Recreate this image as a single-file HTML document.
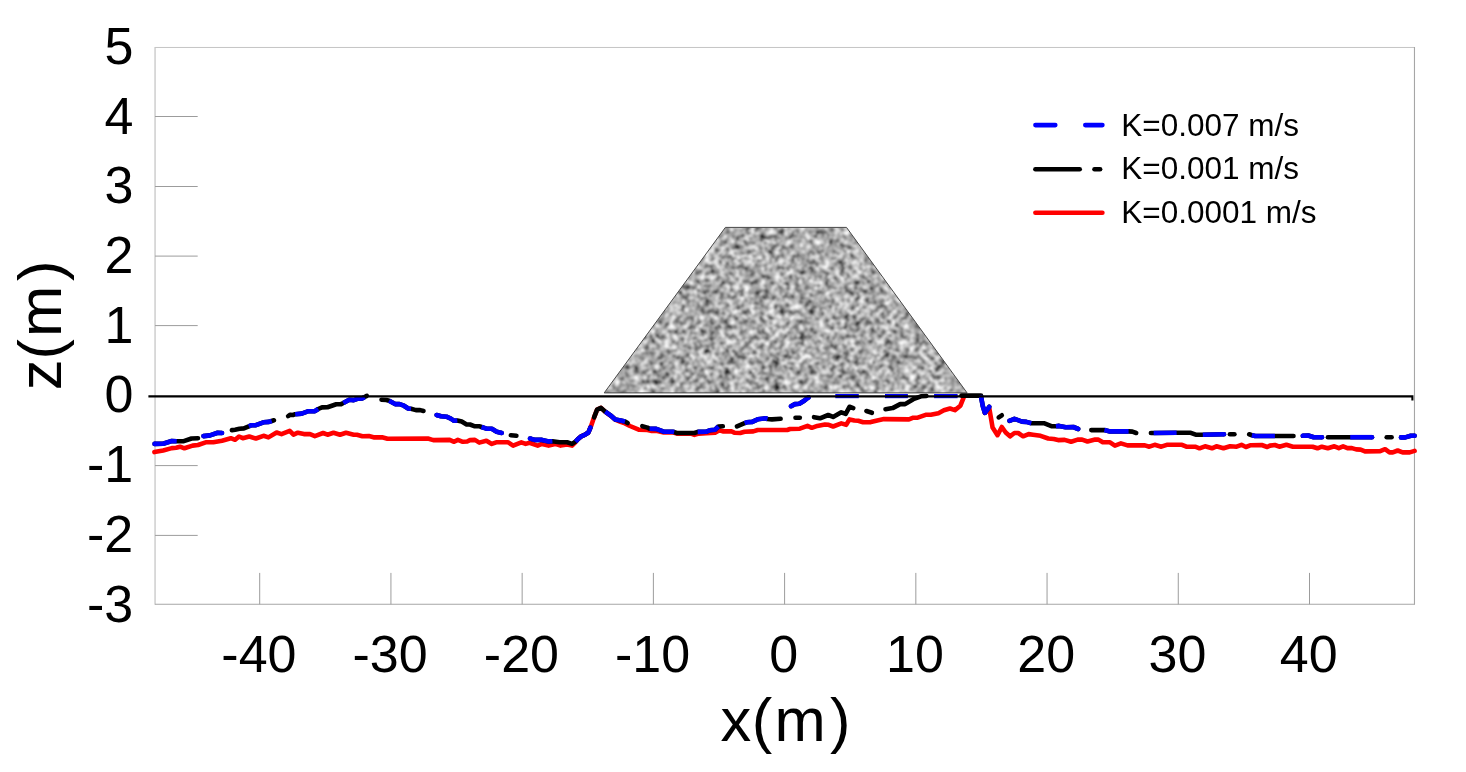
<!DOCTYPE html>
<html><head><meta charset="utf-8"><title>chart</title>
<style>html,body{margin:0;padding:0;background:#fff;}body{width:1466px;height:772px;overflow:hidden;font-family:"Liberation Sans",sans-serif;}svg{display:block;position:absolute;left:0;top:0;will-change:transform;}text{font-family:"Liberation Sans",sans-serif;fill:#000;}</style></head><body>
<svg width="1466" height="772" viewBox="0 0 1466 772">
<defs><filter id="noise" x="0" y="0" width="100%" height="100%" color-interpolation-filters="sRGB"><feTurbulence type="fractalNoise" baseFrequency="0.20" numOctaves="2" seed="7"/><feColorMatrix type="matrix" values="1 0 0 0 0 1 0 0 0 0 1 0 0 0 0 0 0 0 0 1" result="hi"/><feTurbulence type="fractalNoise" baseFrequency="0.06" numOctaves="2" seed="3"/><feColorMatrix type="matrix" values="1 0 0 0 0 1 0 0 0 0 1 0 0 0 0 0 0 0 0 1" result="lo"/><feComposite in="hi" in2="lo" operator="arithmetic" k1="0" k2="1.6" k3="0.5" k4="-0.53"/><feGaussianBlur stdDeviation="0.9"/><feComponentTransfer><feFuncR type="gamma" exponent="0.6"/><feFuncG type="gamma" exponent="0.6"/><feFuncB type="gamma" exponent="0.6"/></feComponentTransfer></filter><clipPath id="trap"><polygon points="604.2,392.9 725.4,227.4 846.5,227.4 967.1,392.9"/></clipPath></defs>
<rect x="0" y="0" width="1466" height="772" fill="#fff"/>
<line x1="155.05" y1="46.96" x2="155.05" y2="604.8" stroke="#c6c6c6" stroke-width="1.3"/>
<line x1="155.05" y1="47.46" x2="1414.47" y2="47.46" stroke="#c4c4c4" stroke-width="1"/>
<line x1="1414.47" y1="46.96" x2="1414.47" y2="604.8" stroke="#a6a6a6" stroke-width="1.1"/>
<line x1="155.05" y1="604.3" x2="1414.47" y2="604.3" stroke="#a6a6a6" stroke-width="1.1"/>
<line x1="155.05" y1="116.5" x2="197.7" y2="116.5" stroke="#9c9c9c" stroke-width="1"/>
<line x1="155.05" y1="186.5" x2="197.7" y2="186.5" stroke="#9c9c9c" stroke-width="1"/>
<line x1="155.05" y1="256.1" x2="197.7" y2="256.1" stroke="#9c9c9c" stroke-width="1"/>
<line x1="155.05" y1="325.6" x2="197.7" y2="325.6" stroke="#9c9c9c" stroke-width="1"/>
<line x1="155.05" y1="465.6" x2="197.7" y2="465.6" stroke="#9c9c9c" stroke-width="1"/>
<line x1="155.05" y1="535.4" x2="197.7" y2="535.4" stroke="#9c9c9c" stroke-width="1"/>
<line x1="259.70" y1="572.9" x2="259.70" y2="604.3" stroke="#9c9c9c" stroke-width="1"/>
<line x1="390.93" y1="572.9" x2="390.93" y2="604.3" stroke="#9c9c9c" stroke-width="1"/>
<line x1="522.15" y1="572.9" x2="522.15" y2="604.3" stroke="#9c9c9c" stroke-width="1"/>
<line x1="653.38" y1="572.9" x2="653.38" y2="604.3" stroke="#9c9c9c" stroke-width="1"/>
<line x1="784.60" y1="572.9" x2="784.60" y2="604.3" stroke="#9c9c9c" stroke-width="1"/>
<line x1="915.83" y1="572.9" x2="915.83" y2="604.3" stroke="#9c9c9c" stroke-width="1"/>
<line x1="1047.05" y1="572.9" x2="1047.05" y2="604.3" stroke="#9c9c9c" stroke-width="1"/>
<line x1="1178.28" y1="572.9" x2="1178.28" y2="604.3" stroke="#9c9c9c" stroke-width="1"/>
<line x1="1309.50" y1="572.9" x2="1309.50" y2="604.3" stroke="#9c9c9c" stroke-width="1"/>
<g clip-path="url(#trap)"><rect x="600" y="224" width="372" height="172" fill="#999" filter="url(#noise)"/></g>
<polygon points="604.2,392.9 725.4,227.4 846.5,227.4 967.1,392.9" fill="none" stroke="#484848" stroke-width="1"/>
<polyline points="154.4,452.1 163.1,450.5 171.8,448.1 176.2,447.8 180.0,446.7 184.4,448.3 192.6,445.6 198.0,445.0 205.7,442.3 213.3,442.3 222.0,440.7 230.8,438.2 235.1,439.8 239.0,436.5 242.8,438.2 249.3,436.5 255.9,438.5 263.5,435.8 268.4,437.4 276.6,432.5 281.5,434.1 289.7,430.8 293.5,434.7 297.9,432.7 303.9,434.1 310.0,434.1 314.9,436.1 323.1,433.0 327.5,434.7 333.5,432.7 340.0,434.7 346.0,432.7 353.7,434.7 356.9,434.7 362.4,436.3 368.9,436.1 374.4,437.4 382.0,437.2 387.5,438.7 427.9,438.5 433.3,440.1 449.7,439.9 454.1,441.8 457.9,439.9 462.8,441.8 467.2,441.5 470.0,440.1 474.9,439.9 479.3,442.6 486.4,440.7 491.8,443.9 496.2,442.3 508.2,442.3 513.1,445.6 521.3,442.3 525.7,443.9 529.5,442.8 537.7,445.6 542.0,443.9 548.6,445.6 555.1,443.9 560.6,445.6 567.1,444.5 572.0,445.6 575.3,442.3 577.5,439.6 581.3,436.3 585.1,434.7 588.4,432.5 591.1,425.9 593.3,419.4 597.1,409.6 601.0,407.9 605.3,411.9 610.8,415.8 615.2,419.6 620.6,421.8 625.0,423.4 630.0,426.0 638.7,429.7 647.5,430.0 651.8,431.0 657.3,430.9 663.8,432.5 673.7,432.5 676.9,433.6 691.1,433.6 694.4,434.9 698.8,433.6 706.4,433.1 715.1,432.6 719.5,430.3 722.8,431.4 731.5,431.4 734.8,432.8 740.2,433.0 744.6,431.7 753.3,431.4 757.7,430.0 787.2,430.0 790.0,429.0 799.8,428.7 807.5,425.9 811.8,427.8 817.3,425.9 824.9,424.5 828.7,424.8 833.1,426.5 841.3,423.4 846.2,424.8 849.5,419.4 854.4,420.5 858.2,420.8 863.1,422.3 870.8,422.1 877.3,420.5 883.9,419.1 909.0,419.4 913.3,417.7 917.7,417.7 926.4,414.7 930.8,414.7 938.4,413.2 943.9,410.3 950.0,408.5 954.9,410.1 960.4,405.7 963.6,397.6" fill="none" stroke="#ff0000" stroke-width="4.6" stroke-linecap="round" stroke-linejoin="round"/>
<polyline points="984.9,412.8 989.3,408.5 990.9,417.7 992.6,427.6 997.5,435.2 1001.8,427.0 1005.7,432.5 1010.0,436.3 1014.4,433.0 1018.2,433.0 1023.1,436.3 1028.6,434.1 1033.0,434.7 1040.6,435.8 1048.2,438.5 1053.7,439.0 1058.1,440.1 1064.6,439.9 1071.1,441.8 1077.7,439.6 1082.1,439.6 1087.5,441.5 1095.2,439.6 1098.4,439.6 1102.8,442.3 1110.0,442.3 1114.9,445.6 1120.9,443.4 1127.5,445.4 1144.9,445.4 1149.3,446.7 1154.7,444.8 1161.3,446.7 1166.8,444.8 1182.0,444.8 1186.4,446.7 1195.1,446.7 1199.5,448.3 1205.0,446.3 1212.0,448.3 1216.4,446.3 1223.5,448.3 1230.1,446.3 1236.6,446.7 1241.5,444.8 1245.9,447.0 1250.8,445.2 1261.7,445.0 1267.2,447.0 1270.0,445.6 1274.9,445.0 1279.3,446.7 1286.4,444.8 1292.9,446.7 1312.6,446.7 1317.5,448.3 1321.8,446.7 1327.8,448.3 1334.4,446.3 1338.8,448.1 1343.1,446.3 1347.5,448.1 1351.9,448.1 1356.2,449.4 1360.6,449.6 1365.0,451.4 1380.2,451.1 1385.1,449.2 1389.5,452.4 1392.8,452.4 1397.7,450.5 1402.6,452.4 1409.7,452.4 1414.6,450.9" fill="none" stroke="#ff0000" stroke-width="4.6" stroke-linecap="round" stroke-linejoin="round"/>
<line x1="835.3" y1="396.1" x2="858.8" y2="396.1" stroke="#0000ff" stroke-width="4.2"/>
<line x1="885.0" y1="396.1" x2="907.9" y2="396.1" stroke="#0000ff" stroke-width="4.2"/>
<line x1="934.1" y1="396.1" x2="957.6" y2="396.1" stroke="#0000ff" stroke-width="4.2"/>
<polyline points="154.6,443.9 163.1,443.7 171.8,441.0 176.7,441.2 183.8,441.2 191.5,438.5 198.0,438.2" fill="none" stroke="#000" stroke-width="4.6" stroke-linecap="round" stroke-linejoin="round"/>
<polyline points="154.6,443.9 163.1,443.7 171.8,441.0 176.7,441.2" fill="none" stroke="#0000ff" stroke-width="4.6" stroke-linecap="butt" stroke-linejoin="round"/>
<circle cx="154.6" cy="443.9" r="2.3" fill="#0000ff"/>
<polyline points="203.5,436.1 210.0,435.4 217.7,432.8 222.0,433.0" fill="none" stroke="#000" stroke-width="4.6" stroke-linecap="round" stroke-linejoin="round"/>
<polyline points="203.5,436.1 210.0,435.4 217.7,432.8 222.0,433.0" fill="none" stroke="#0000ff" stroke-width="4.6" stroke-linecap="butt" stroke-linejoin="round"/>
<circle cx="203.5" cy="436.1" r="2.3" fill="#0000ff"/>
<circle cx="222.0" cy="433.0" r="2.3" fill="#0000ff"/>
<polyline points="231.9,430.1 235.1,429.7 239.5,428.7 243.9,428.4 248.8,426.3 251.5,425.2 255.9,425.2 263.5,422.3 269.0,421.9 271.7,421.0 273.9,420.3" fill="none" stroke="#000" stroke-width="4.6" stroke-linecap="round" stroke-linejoin="round"/>
<polyline points="248.8,426.3 251.5,425.2 255.9,425.2 263.5,422.3 269.0,421.9 271.7,421.0" fill="none" stroke="#0000ff" stroke-width="4.6" stroke-linecap="butt" stroke-linejoin="round"/>
<polyline points="288.1,416.1 290.2,414.8 293.0,415.0 295.2,414.2 301.7,413.6 308.5,411.2 314.9,411.2 318.2,409.0 322.0,407.4 327.5,407.2 336.2,404.3 341.1,404.1 343.3,403.0 349.3,399.7 353.7,400.1 358.0,398.6 362.4,398.4 364.6,397.0 366.8,395.9" fill="none" stroke="#000" stroke-width="4.6" stroke-linecap="round" stroke-linejoin="round"/>
<polyline points="295.2,414.2 301.7,413.6 308.5,411.2 314.9,411.2 318.2,409.0" fill="none" stroke="#0000ff" stroke-width="4.6" stroke-linecap="butt" stroke-linejoin="round"/>
<polyline points="343.3,403.0 349.3,399.7 353.7,400.1 358.0,398.6 362.4,398.4 364.6,397.0" fill="none" stroke="#0000ff" stroke-width="4.6" stroke-linecap="butt" stroke-linejoin="round"/>
<polyline points="381.5,399.7 386.4,400.0 389.1,400.8 395.1,404.1 399.5,404.1 403.9,405.7 408.2,408.5 411.0,408.8 415.9,410.1 420.2,410.1 423.5,411.0" fill="none" stroke="#000" stroke-width="4.6" stroke-linecap="round" stroke-linejoin="round"/>
<polyline points="389.1,400.8 395.1,404.1 399.5,404.1 403.9,405.7 408.2,408.5 411.0,408.8" fill="none" stroke="#0000ff" stroke-width="4.6" stroke-linecap="butt" stroke-linejoin="round"/>
<polyline points="436.6,415.0 441.0,416.3 446.4,416.7 450.8,418.6 454.1,420.8 457.3,420.5 461.7,421.6 466.6,424.5 470.0,424.5 474.9,426.3 479.8,426.3 481.5,427.0 486.4,428.7 491.8,428.7 496.7,431.7 501.7,433.0" fill="none" stroke="#000" stroke-width="4.6" stroke-linecap="round" stroke-linejoin="round"/>
<polyline points="436.6,415.0 441.0,416.3 446.4,416.7 450.8,418.6 454.1,420.8 457.3,420.5" fill="none" stroke="#0000ff" stroke-width="4.6" stroke-linecap="butt" stroke-linejoin="round"/>
<circle cx="436.6" cy="415.0" r="2.3" fill="#0000ff"/>
<polyline points="481.5,427.0 486.4,428.7 491.8,428.7 496.7,431.7 501.7,433.0" fill="none" stroke="#0000ff" stroke-width="4.6" stroke-linecap="butt" stroke-linejoin="round"/>
<circle cx="501.7" cy="433.0" r="2.3" fill="#0000ff"/>
<polyline points="510.9,435.2 516.4,435.8" fill="none" stroke="#000" stroke-width="4.6" stroke-linecap="round" stroke-linejoin="round"/>
<polyline points="530.0,438.5 534.4,439.9 542.0,439.9 548.6,441.4 552.4,441.2 559.5,442.3 567.1,442.3 572.0,443.9 575.5,441.6 577.5,439.6 581.3,436.3 585.1,434.7 588.4,432.5 590.4,427.6" fill="none" stroke="#000" stroke-width="4.6" stroke-linecap="round" stroke-linejoin="round"/>
<polyline points="530.0,438.5 534.4,439.9 542.0,439.9 548.6,441.4 552.4,441.2" fill="none" stroke="#0000ff" stroke-width="4.6" stroke-linecap="butt" stroke-linejoin="round"/>
<circle cx="530.0" cy="438.5" r="2.3" fill="#0000ff"/>
<polyline points="575.5,441.6 577.5,439.6 581.3,436.3 585.1,434.7 588.4,432.5 590.4,427.6" fill="none" stroke="#0000ff" stroke-width="4.6" stroke-linecap="butt" stroke-linejoin="round"/>
<circle cx="590.4" cy="427.6" r="2.3" fill="#0000ff"/>
<polyline points="594.1,417.3 597.1,409.6 601.0,407.9 605.3,411.7 610.8,415.6 615.2,419.4 620.6,420.5 625.0,421.6 627.6,423.1" fill="none" stroke="#000" stroke-width="4.6" stroke-linecap="round" stroke-linejoin="round"/>
<polyline points="605.3,411.7 610.8,415.6 615.2,419.4 620.6,420.5 625.0,421.6" fill="none" stroke="#0000ff" stroke-width="4.6" stroke-linecap="butt" stroke-linejoin="round"/>
<polyline points="642.3,426.2 647.5,427.6 649.6,428.7 656.2,428.9 663.8,431.7 672.6,431.7 674.2,432.1 676.9,433.0 694.4,433.0 697.7,431.9 706.4,431.7 709.7,430.3 715.1,429.7 718.4,426.5 722.8,426.3" fill="none" stroke="#000" stroke-width="4.6" stroke-linecap="round" stroke-linejoin="round"/>
<polyline points="649.6,428.7 656.2,428.9 663.8,431.7 672.6,431.7 674.2,432.1" fill="none" stroke="#0000ff" stroke-width="4.6" stroke-linecap="butt" stroke-linejoin="round"/>
<polyline points="697.7,431.9 706.4,431.7 709.7,430.3 715.1,429.7 718.4,426.5" fill="none" stroke="#0000ff" stroke-width="4.6" stroke-linecap="butt" stroke-linejoin="round"/>
<polyline points="737.0,426.3 744.6,423.2 746.8,422.3 752.2,421.9 757.7,419.3 765.3,418.3 767.5,419.0 772.0,419.4 780.6,418.8" fill="none" stroke="#000" stroke-width="4.6" stroke-linecap="round" stroke-linejoin="round"/>
<polyline points="744.6,423.2 746.8,422.3 752.2,421.9 757.7,419.3 765.3,418.3 767.5,419.0" fill="none" stroke="#0000ff" stroke-width="4.6" stroke-linecap="butt" stroke-linejoin="round"/>
<polyline points="791.0,406.2 794.9,404.1 799.3,403.8 804.2,400.8 807.6,398.0 808.6,397.4" fill="none" stroke="#000" stroke-width="4.6" stroke-linecap="round" stroke-linejoin="round"/>
<polyline points="791.0,406.2 794.9,404.1 799.3,403.8 804.2,400.8 807.6,398.0 808.6,397.4" fill="none" stroke="#0000ff" stroke-width="4.6" stroke-linecap="butt" stroke-linejoin="round"/>
<circle cx="791.0" cy="406.2" r="2.3" fill="#0000ff"/>
<circle cx="808.6" cy="397.4" r="2.3" fill="#0000ff"/>
<polyline points="795.5,417.7 799.8,417.7" fill="none" stroke="#000" stroke-width="4.6" stroke-linecap="round" stroke-linejoin="round"/>
<polyline points="814.0,417.2 820.0,418.3 828.2,415.0 833.1,416.9 841.3,412.3 845.7,413.9 849.5,406.8 853.3,408.1" fill="none" stroke="#000" stroke-width="4.6" stroke-linecap="round" stroke-linejoin="round"/>
<polyline points="866.4,411.0 871.9,412.8" fill="none" stroke="#000" stroke-width="4.6" stroke-linecap="round" stroke-linejoin="round"/>
<polyline points="885.5,409.2 892.6,408.1 900.2,404.1 905.1,404.1 913.3,399.2 921.0,396.3 926.4,396.0" fill="none" stroke="#000" stroke-width="4.6" stroke-linecap="round" stroke-linejoin="round"/>
<polyline points="961.5,395.6 981.0,395.6" fill="none" stroke="#000" stroke-width="4.6" stroke-linecap="round" stroke-linejoin="round"/>
<polyline points="981.1,397.0 982.7,405.7 984.9,412.8 989.3,406.8" fill="none" stroke="#000" stroke-width="4.6" stroke-linecap="round" stroke-linejoin="round"/>
<polyline points="981.1,397.0 982.7,405.7 984.9,412.8 989.3,406.8" fill="none" stroke="#0000ff" stroke-width="4.6" stroke-linecap="butt" stroke-linejoin="round"/>
<circle cx="981.1" cy="397.0" r="2.3" fill="#0000ff"/>
<circle cx="989.3" cy="406.8" r="2.3" fill="#0000ff"/>
<polyline points="998.7,417.4 1001.8,415.3" fill="none" stroke="#000" stroke-width="4.6" stroke-linecap="round" stroke-linejoin="round"/>
<polyline points="1009.5,420.8 1014.4,418.8 1022.0,421.6 1026.4,421.9 1031.3,423.2 1043.9,423.2 1052.0,426.3 1055.9,426.3 1059.1,425.9 1065.7,427.3 1073.3,427.0 1078.2,429.0" fill="none" stroke="#000" stroke-width="4.6" stroke-linecap="round" stroke-linejoin="round"/>
<polyline points="1009.5,420.8 1014.4,418.8 1022.0,421.6 1026.4,421.9 1031.3,423.2" fill="none" stroke="#0000ff" stroke-width="4.6" stroke-linecap="butt" stroke-linejoin="round"/>
<circle cx="1009.5" cy="420.8" r="2.3" fill="#0000ff"/>
<polyline points="1055.9,426.3 1059.1,425.9 1065.7,427.3 1073.3,427.0 1078.2,429.0" fill="none" stroke="#0000ff" stroke-width="4.6" stroke-linecap="butt" stroke-linejoin="round"/>
<circle cx="1078.2" cy="429.0" r="2.3" fill="#0000ff"/>
<polyline points="1091.3,430.1 1104.4,430.1 1110.0,431.4 1128.6,431.4 1132.4,431.6 1136.2,433.0" fill="none" stroke="#000" stroke-width="4.6" stroke-linecap="round" stroke-linejoin="round"/>
<polyline points="1104.4,430.1 1110.0,431.4 1128.6,431.4" fill="none" stroke="#0000ff" stroke-width="4.6" stroke-linecap="butt" stroke-linejoin="round"/>
<polyline points="1150.9,433.0 1153.7,433.0 1176.6,432.8 1190.8,432.8 1195.7,434.7 1202.8,434.7 1224.0,434.3" fill="none" stroke="#000" stroke-width="4.6" stroke-linecap="round" stroke-linejoin="round"/>
<polyline points="1153.7,433.0 1176.6,432.8" fill="none" stroke="#0000ff" stroke-width="4.6" stroke-linecap="butt" stroke-linejoin="round"/>
<polyline points="1202.8,434.7 1224.0,434.3" fill="none" stroke="#0000ff" stroke-width="4.6" stroke-linecap="butt" stroke-linejoin="round"/>
<circle cx="1224.0" cy="434.3" r="2.3" fill="#0000ff"/>
<polyline points="1229.9,434.3 1234.4,434.3" fill="none" stroke="#000" stroke-width="4.6" stroke-linecap="round" stroke-linejoin="round"/>
<polyline points="1249.2,434.3 1251.9,435.2 1255.2,436.0 1274.9,436.0 1293.5,436.0" fill="none" stroke="#000" stroke-width="4.6" stroke-linecap="round" stroke-linejoin="round"/>
<polyline points="1251.9,435.2 1255.2,436.0 1274.9,436.0" fill="none" stroke="#0000ff" stroke-width="4.6" stroke-linecap="butt" stroke-linejoin="round"/>
<polyline points="1302.8,435.8 1308.2,435.5 1313.7,437.2 1322.0,437.2" fill="none" stroke="#000" stroke-width="4.6" stroke-linecap="round" stroke-linejoin="round"/>
<polyline points="1302.8,435.8 1308.2,435.5 1313.7,437.2 1322.0,437.2" fill="none" stroke="#0000ff" stroke-width="4.6" stroke-linecap="butt" stroke-linejoin="round"/>
<circle cx="1302.8" cy="435.8" r="2.3" fill="#0000ff"/>
<circle cx="1322.0" cy="437.2" r="2.3" fill="#0000ff"/>
<polyline points="1327.9,437.2 1350.2,437.2 1372.0,437.2" fill="none" stroke="#000" stroke-width="4.6" stroke-linecap="round" stroke-linejoin="round"/>
<polyline points="1350.2,437.2 1372.0,437.2" fill="none" stroke="#0000ff" stroke-width="4.6" stroke-linecap="butt" stroke-linejoin="round"/>
<circle cx="1372.0" cy="437.2" r="2.3" fill="#0000ff"/>
<polyline points="1386.7,437.2 1391.6,437.2" fill="none" stroke="#000" stroke-width="4.6" stroke-linecap="round" stroke-linejoin="round"/>
<polyline points="1401.0,437.4 1405.3,437.4 1410.8,435.8 1414.6,435.8" fill="none" stroke="#000" stroke-width="4.6" stroke-linecap="round" stroke-linejoin="round"/>
<polyline points="1401.0,437.4 1405.3,437.4 1410.8,435.8 1414.6,435.8" fill="none" stroke="#0000ff" stroke-width="4.6" stroke-linecap="butt" stroke-linejoin="round"/>
<circle cx="1401.0" cy="437.4" r="2.3" fill="#0000ff"/>
<circle cx="1414.6" cy="435.8" r="2.3" fill="#0000ff"/>
<polyline points="148.4,396.4 1412.4,396.4 1412.4,400.6" fill="none" stroke="#000" stroke-width="2.1"/>
<line x1="1035.4" y1="125.1" x2="1055.3" y2="125.1" stroke="#0000ff" stroke-width="4.6" stroke-linecap="round"/>
<line x1="1085.3" y1="125.1" x2="1102.4" y2="125.1" stroke="#0000ff" stroke-width="4.6" stroke-linecap="round"/>
<line x1="1035.4" y1="169.2" x2="1079.7" y2="169.2" stroke="#000" stroke-width="4.6" stroke-linecap="round"/>
<line x1="1094.5" y1="169.2" x2="1100.1" y2="169.2" stroke="#000" stroke-width="4.6" stroke-linecap="round"/>
<line x1="1035.4" y1="212.8" x2="1102.4" y2="212.8" stroke="#ff0000" stroke-width="4.6" stroke-linecap="round"/>
<text x="1121.3" y="135.5" font-size="31.5">K=0.007 m/s</text>
<text x="1121.3" y="179.0" font-size="31.5">K=0.001 m/s</text>
<text x="1121.3" y="222.6" font-size="31.5">K=0.0001 m/s</text>
<text x="133.3" y="63.9" font-size="52" text-anchor="end">5</text>
<text x="133.3" y="133.6" font-size="52" text-anchor="end">4</text>
<text x="133.3" y="203.3" font-size="52" text-anchor="end">3</text>
<text x="133.3" y="273.0" font-size="52" text-anchor="end">2</text>
<text x="133.3" y="342.7" font-size="52" text-anchor="end">1</text>
<text x="133.3" y="412.4" font-size="52" text-anchor="end">0</text>
<text x="133.3" y="482.1" font-size="52" text-anchor="end">-1</text>
<text x="133.3" y="551.8" font-size="52" text-anchor="end">-2</text>
<text x="133.3" y="621.5" font-size="52" text-anchor="end">-3</text>
<text x="258.9" y="671.7" font-size="52" text-anchor="middle">-40</text>
<text x="390.1" y="671.7" font-size="52" text-anchor="middle">-30</text>
<text x="521.4" y="671.7" font-size="52" text-anchor="middle">-20</text>
<text x="652.6" y="671.7" font-size="52" text-anchor="middle">-10</text>
<text x="783.8" y="671.7" font-size="52" text-anchor="middle">0</text>
<text x="915.0" y="671.7" font-size="52" text-anchor="middle">10</text>
<text x="1046.2" y="671.7" font-size="52" text-anchor="middle">20</text>
<text x="1177.5" y="671.7" font-size="52" text-anchor="middle">30</text>
<text x="1308.7" y="671.7" font-size="52" text-anchor="middle">40</text>
<text y="741.0" font-size="61.5"><tspan x="720.6">x</tspan><tspan x="751.7">(</tspan><tspan x="774.6">m</tspan><tspan x="830.0">)</tspan></text>
<text transform="translate(61.3,389.3) rotate(-90)" y="0" font-size="61.5"><tspan x="-1.0">z</tspan><tspan x="29.8">(</tspan><tspan x="52.4">m</tspan><tspan x="108.4">)</tspan></text>
</svg></body></html>
